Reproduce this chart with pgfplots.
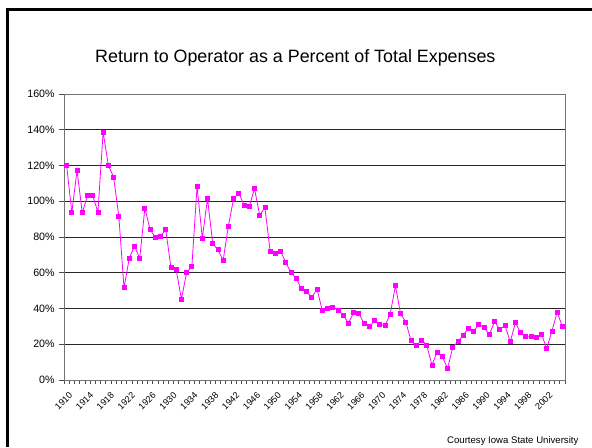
\documentclass[border=0pt]{standalone}
\usepackage{pgfplots}
\pgfplotsset{compat=1.18}
\usepackage{fontspec}
\setmainfont{Liberation Sans}
\begin{document}
\begin{tikzpicture}
\useasboundingbox (0,0) rectangle (444pt,335.25pt);
\fill[white] (0,0) rectangle (444pt,335.25pt);
\draw[line width=2.25pt] (5.25pt,0) -- (5.25pt,327.75pt) -- (444pt,327.75pt);
\begin{axis}[
  at={(48pt,50.25pt)}, anchor=south west,
  scale only axis, width=375.75pt, height=214.5pt,
  xmin=1909.5, xmax=2005.5, ymin=0, ymax=160,
  xtick={1910,1914,...,2002},
  minor xtick={1909.5,1910.5,...,2005.5},
  major x tick style={draw=none},
  minor tick length=3pt,
  ytick={0,20,...,160},
  major tick length=3.5pt,
  tick align=outside,
  xtick pos=bottom, ytick pos=left,
  ymajorgrids,
  grid style={black!85, line width=0.6pt},
  axis line style={black!55, line width=0.6pt},
  tick style={black!70, line width=0.5pt},
  yticklabel={\pgfmathprintnumber{\tick}\%},
  /pgf/number format/assume math mode=true,
  x tick label style={/pgf/number format/1000 sep={}, rotate=45, anchor=north east, font=\fontsize{6.8pt}{8pt}\selectfont, inner sep=0pt, xshift=-2.5pt, yshift=-4.5pt},
  y tick label style={font=\fontsize{8pt}{9pt}\selectfont},
  clip=false,
]
\addplot[color={rgb,255:red,255;green,0;blue,255}, line width=0.6pt, mark=square*, mark size=1.5pt, mark options={solid}] coordinates {
(1910,120) (1911,93.7) (1912,117.3) (1913,93.5) (1914,103.2) (1915,103) (1916,93.9) (1917,138.7) (1918,120) (1919,113.6)
(1920,91.8) (1921,51.6) (1922,68) (1923,75) (1924,68) (1925,96.1) (1926,84) (1927,79.9) (1928,80.6) (1929,84)
(1930,62.8) (1931,61.6) (1932,45.3) (1933,60.1) (1934,63.5) (1935,108.4) (1936,79.3) (1937,101.5) (1938,76.3) (1939,72.8)
(1940,67) (1941,86.2) (1942,101.5) (1943,104.5) (1944,97.9) (1945,97) (1946,107.1) (1947,92.2) (1948,96.5) (1949,71.9)
(1950,70.8) (1951,71.9) (1952,65.8) (1953,60.1) (1954,56.8) (1955,51) (1956,49.3) (1957,46.4) (1958,50.8) (1959,38.7)
(1960,40) (1961,40.8) (1962,39.1) (1963,36.3) (1964,31.8) (1965,37.6) (1966,37.4) (1967,31.5) (1968,29.8) (1969,33.1)
(1970,31.1) (1971,30.4) (1972,36.7) (1973,52.7) (1974,37) (1975,32.4) (1976,22) (1977,19.2) (1978,22.2) (1979,19.6)
(1980,8.4) (1981,15.6) (1982,13) (1983,6.5) (1984,18.3) (1985,21.6) (1986,25.1) (1987,29) (1988,27.4) (1989,31.1)
(1990,29.4) (1991,25.3) (1992,32.8) (1993,28.1) (1994,30.6) (1995,21.4) (1996,32) (1997,26.4) (1998,24.2) (1999,24.2)
(2000,23.8) (2001,25.5) (2002,17.7) (2003,27.4) (2004,38) (2005,29.8)
};
\end{axis}
\node[font=\fontsize{13.4pt}{16pt}\selectfont, anchor=base] at (221.5pt,288.5pt) {Return to Operator as a Percent of Total Expenses};
\node[font=\fontsize{7.2pt}{8pt}\selectfont, anchor=base east, inner sep=0pt] at (434pt,2.5pt) {Courtesy Iowa State University};
\end{tikzpicture}
\end{document}
